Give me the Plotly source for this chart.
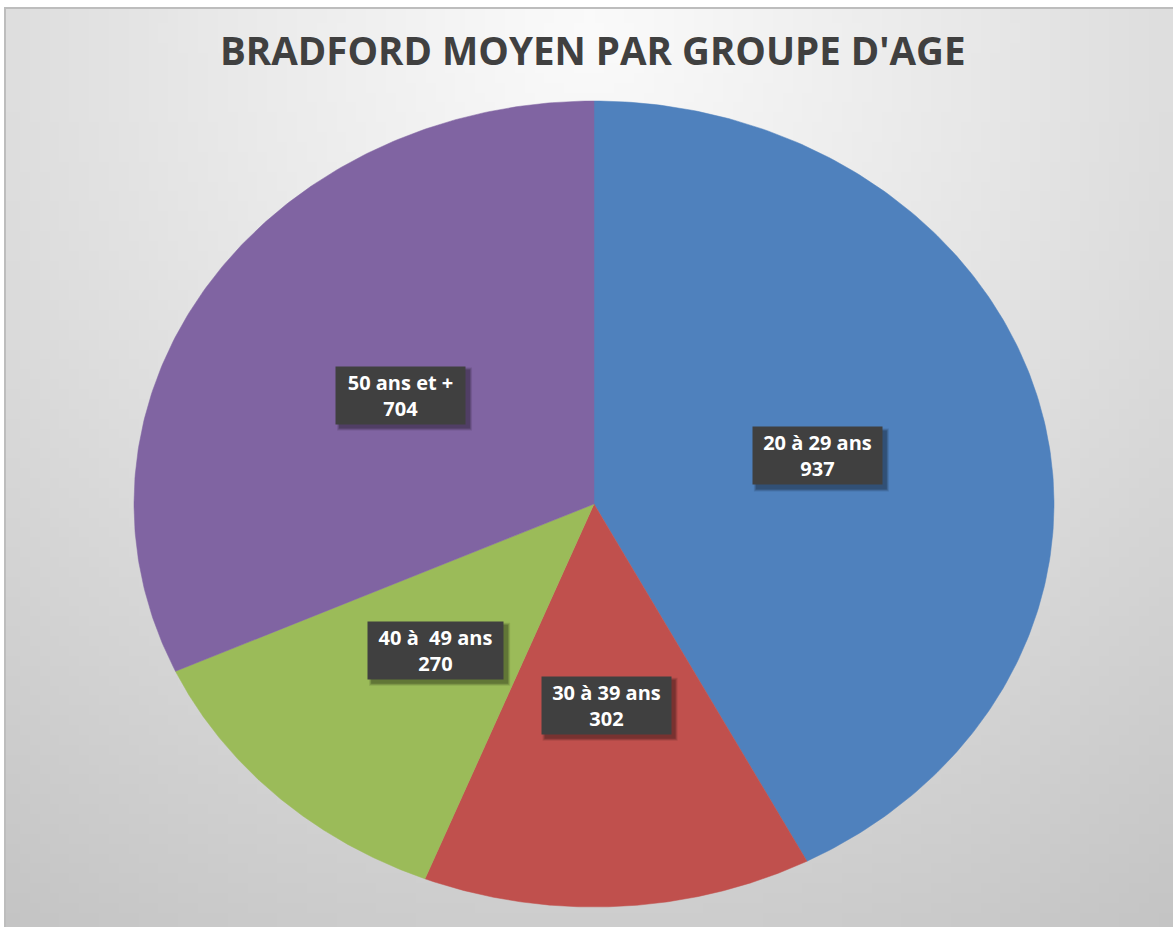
import base64, struct, zlib
import numpy as np
import plotly.graph_objects as go

# ---------------- data ----------------
categories = ["20 à 29 ans", "30 à 39 ans", "40 à\u00a0 49 ans", "50 ans et +"]
values = [937, 302, 270, 704]
colors = ["#4F81BD", "#C0504D", "#9BBB59", "#8064A2"]
title_text = "BRADFORD MOYEN PAR GROUPE D'AGE"

# ---------------- geometry (pixel-space axes) ----------------
W, H = 1173, 927
cx, cy = 594, 504
rx, ry = 460, 403

# ---------------- background gradient image (generated PNG) ----------------
def gradient_png(w=118, h=93):
    xs = np.linspace(0, 1170, w)
    ys = np.linspace(0, 921, h)
    X, Y = np.meshgrid(xs, ys)
    d = np.sqrt((X - 585) ** 2 + ((Y - 20) * 1.0) ** 2) / 1070.0
    c = 251 - 54 * np.clip(d, 0, 1.2) ** 1.05
    c = np.clip(c, 0, 255).astype(np.uint8)
    raw = b"".join(b"\x00" + row.tobytes() for row in c)
    def chunk(t, data):
        return struct.pack(">I", len(data)) + t + data + struct.pack(">I", zlib.crc32(t + data) & 0xffffffff)
    png = b"\x89PNG\r\n\x1a\n" + chunk(b"IHDR", struct.pack(">IIBBBBB", w, h, 8, 0, 0, 0, 0)) \
        + chunk(b"IDAT", zlib.compress(raw, 9)) + chunk(b"IEND", b"")
    return "data:image/png;base64," + base64.b64encode(png).decode()

fig = go.Figure()

total = sum(values)
start = 0.0
label_pos = []
for cat, val, col in zip(categories, values, colors):
    ext = val / total * 2 * np.pi
    th = np.linspace(start, start + ext, 200)
    xs = np.concatenate([[cx], cx + rx * np.sin(th), [cx]])
    ys = np.concatenate([[cy], cy - ry * np.cos(th), [cy]])
    fig.add_trace(go.Scatter(x=xs, y=ys, mode="lines", fill="toself", fillcolor=col,
                             line=dict(color=col, width=0.5), hoverinfo="skip", showlegend=False,
                             name=cat))
    mid = start + ext / 2
    label_pos.append((cx + 0.5 * rx * np.sin(mid), cy - 0.5 * ry * np.cos(mid)))
    start += ext

annotations = []
shapes = []
pad = 7
box_h = 43
for (lx, ly), cat, val in zip(label_pos, categories, values):
    box_w = 115 + (len(cat) - 11) * 6
    tw, th_ = box_w + 2 * pad, box_h + 2 * pad
    # soft shadow
    for k, a in ((6, 0.10), (4, 0.14), (2, 0.18)):
        shapes.append(dict(type="rect", xref="x", yref="y",
                           x0=lx - tw / 2 + 4 - k / 2, x1=lx + tw / 2 + 4 + k / 2,
                           y0=ly - th_ / 2 + 4 - k / 2, y1=ly + th_ / 2 + 4 + k / 2,
                           fillcolor=f"rgba(0,0,0,{a})", line=dict(width=0), layer="above"))
    annotations.append(dict(x=lx, y=ly, xref="x", yref="y", text=f"<b>{cat}</b><br><b>{val}</b>",
                            showarrow=False, bgcolor="#404040", borderpad=pad,
                            width=box_w, height=box_h, align="center", valign="middle",
                            font=dict(family="Open Sans", size=20, color="white"),
                            xanchor="center", yanchor="middle"))

annotations.append(dict(x=593, y=50, xref="x", yref="y", text=f"<b>{title_text}</b>", showarrow=False,
                        font=dict(family="Open Sans", size=38.5, color="#404040"),
                        xanchor="center", yanchor="middle"))

shapes.append(dict(type="rect", xref="x", yref="y", x0=5, y0=8, x1=W + 2, y1=H + 2,
                   line=dict(color="#bdbdbd", width=2), layer="above"))

fig.update_layout(
    width=W, height=H,
    margin=dict(l=0, r=0, t=0, b=0),
    paper_bgcolor="white", plot_bgcolor="rgba(0,0,0,0)",
    xaxis=dict(range=[0, W], visible=False, fixedrange=True),
    yaxis=dict(range=[H, 0], visible=False, fixedrange=True),
    annotations=annotations,
    images=[dict(source=gradient_png(), xref="paper", yref="paper",
                 x=5 / W, y=1 - 8 / H, sizex=1 - 5 / W, sizey=1 - 8 / H,
                 xanchor="left", yanchor="top", sizing="stretch", layer="below")],
    shapes=shapes,
    showlegend=False,
)

fig.write_html("out.html", config={"displayModeBar": False},
               post_script="document.body.style.margin='0';document.body.style.overflow='hidden';")
